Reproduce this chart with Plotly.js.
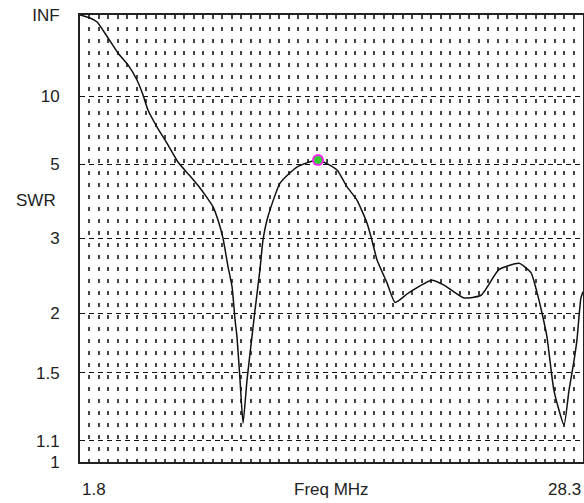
<!DOCTYPE html>
<html>
<head>
<meta charset="utf-8">
<script src="https://cdn.plot.ly/plotly-3.0.1.min.js"></script>
<style>html,body{margin:0;padding:0;background:#fff;}#chart{width:584px;height:503px;}</style>
</head>
<body>
<div id="chart"></div>
<script>
// Frequency (MHz) and SWR
const freqMHz = [1.80, 2.33, 2.70, 3.28, 3.80, 4.33, 4.80, 5.12, 5.38, 5.86, 6.38, 6.96, 7.60, 8.12, 8.39, 8.81, 9.07, 9.33, 9.60, 9.81, 9.97, 10.07, 10.23, 10.39, 10.60, 10.86, 11.02, 11.28, 11.44, 11.70, 12.34, 13.23, 14.34, 15.34, 15.87, 16.39, 16.92, 17.18, 17.45, 17.97, 18.40, 19.13, 20.34, 20.98, 22.03, 22.93, 23.87, 24.93, 25.56, 25.88, 26.14, 26.40, 26.77, 27.30, 27.56, 27.83, 27.98, 28.19, 28.30];
const swr = [Infinity, 297, 126.7, 37.9, 22.5, 16.9, 12.75, 10.17, 8.41, 6.98, 5.98, 5.08, 4.55, 4.17, 3.97, 3.66, 3.36, 3.01, 2.55, 2.29, 1.93, 1.78, 1.45, 1.19, 1.45, 1.78, 2.03, 2.51, 2.97, 3.43, 4.32, 4.88, 5.17, 4.77, 4.20, 3.83, 3.30, 2.97, 2.65, 2.34, 2.11, 2.22, 2.37, 2.31, 2.16, 2.19, 2.51, 2.60, 2.47, 2.22, 2.00, 1.78, 1.38, 1.18, 1.38, 1.59, 1.75, 2.16, 2.23];
const markerFreq = [14.34];
const markerSwr = [5.17];
const swrTicks = [Infinity, 10, 5, 3, 2, 1.5, 1.1, 1];
const swrTickText = ['INF', '10', '5', '3', '2', '1.5', '1.1', '1'];
const xLabelVals = [1.8, 15.05, 28.3];
const xLabelText = ['1.8', 'Freq MHz', '28.3'];

// SWR axis is linear in reflection coefficient
function rho(s) { return isFinite(s) ? (s - 1) / (s + 1) : 1; }

const font = {family: 'Arial, "Liberation Sans", sans-serif', size: 17, color: '#222'};

const traces = [
  {x: freqMHz, y: swr.map(rho), type: 'scatter', mode: 'lines',
   line: {color: '#111', width: 1.5, shape: 'spline', smoothing: 0.5}, hoverinfo: 'skip'},
  {x: markerFreq, y: markerSwr.map(rho), type: 'scatter', mode: 'markers',
   marker: {size: 10, color: '#33cc33', line: {color: '#ff22ff', width: 2}}, hoverinfo: 'skip'}
];

const anchors = ['left', 'center', 'right'];
const annotations = xLabelVals.map((v, i) => ({
  x: v, xref: 'x', y: -0.0626, yref: 'paper', text: xLabelText[i],
  showarrow: false, xanchor: anchors[i], yanchor: 'middle', font: font
}));
annotations.push({x: -0.0437, xref: 'paper', y: 0.584, yref: 'paper', text: 'SWR',
  showarrow: false, xanchor: 'right', yanchor: 'middle', font: font});

const layout = {
  width: 584, height: 503,
  margin: {l: 80, r: 1, t: 15, b: 41, pad: 0},
  paper_bgcolor: '#fff', plot_bgcolor: '#fff',
  showlegend: false,
  xaxis: {
    range: [1.8, 28.3], showticklabels: false, ticks: '', showgrid: false, zeroline: false,
    showline: true, mirror: true, linecolor: '#222', linewidth: 2,
    minor: {tick0: 1.8, dtick: 0.5, showgrid: true, gridcolor: '#444', gridwidth: 2, griddash: '4px,8px', ticks: ''}
  },
  yaxis: {
    range: [0, 1], tickvals: swrTicks.map(rho), ticktext: swrTickText, ticks: '',
    ticklabelstandoff: 15, tickfont: font,
    showgrid: true, gridcolor: '#111', gridwidth: 1, griddash: '5px,4px', zeroline: false,
    showline: true, mirror: true, linecolor: '#222', linewidth: 2
  },
  annotations: annotations
};

Plotly.newPlot('chart', traces, layout, {staticPlot: true, displayModeBar: false});
</script>
</body>
</html>
